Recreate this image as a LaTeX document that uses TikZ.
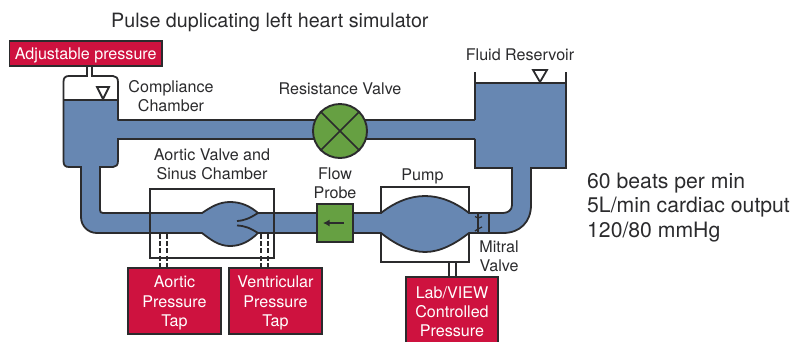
\documentclass[tikz,border=0pt]{standalone}
\usepackage{fontspec}
\setmainfont{TeX Gyre Heros}
\usetikzlibrary{arrows.meta}
\definecolor{fluid}{HTML}{6787B2}
\definecolor{redbox}{HTML}{CE123F}
\definecolor{greenb}{HTML}{66A042}
\definecolor{ink}{HTML}{2B2B2D}
\newcommand\toprl{\rule{0pt}{15.5pt}}
\tikzset{
 x=1pt,y=-1pt,
 lw/.style={line width=1.7pt,draw=ink},
 edge/.style={line width=1.8pt,draw=ink},
 redb/.style={fill=redbox,draw=ink,line width=1.8pt,text=white,align=center,font=\fontsize{16.1}{19.3}\selectfont,inner sep=0pt},
 lab/.style={text=ink,align=center,font=\fontsize{16.1}{18.8}\selectfont,inner sep=0pt},
 big/.style={text=ink,font=\fontsize{19.7}{24.5}\selectfont,inner sep=0pt},
 stat/.style={text=ink,font=\fontsize{21.2}{24.5}\selectfont,inner sep=0pt},
}
\begin{document}
\begin{tikzpicture}
\useasboundingbox (0,0) rectangle (793,341);
% fluid
\fill[fluid] (63.5,100) -- (118,100) -- (118,120) -- (475,120) -- (475,83) -- (566,83) -- (566,168) -- (531,168) -- (531,205) .. controls (531,222) and (520,233) .. (503,233) -- (469,233) .. controls (455,244) and (440,252) .. (425,252) .. controls (410,252) and (395,244) .. (381,233) -- (258,233) .. controls (250,241) and (241,246) .. (230,246) .. controls (219,246) and (211,240) .. (202,233) -- (97,233) .. controls (88,233) and (81,226) .. (81,217) -- (81,167) -- (69,167) .. controls (65,167) and (63.5,165) .. (63.5,161) -- cycle;
\fill[white] (100,167) -- (113,167) .. controls (116,167) and (118,165) .. (118,161) -- (118,139) -- (475,139) -- (475,168) -- (512,168) -- (512,205) .. controls (512,210) and (508,213) .. (503,213) -- (469,213) .. controls (455,202) and (440,196) .. (425,196) .. controls (410,196) and (395,202) .. (381,213) -- (258,213) .. controls (250,206) and (241,202) .. (230,202) .. controls (219,202) and (211,207) .. (202,213) -- (103,213) .. controls (101,213) and (100,212) .. (100,210) -- cycle;
% fluid outline
\draw[edge,line join=round] (118,100) -- (118,120) -- (475,120);
\draw[edge] (475,72) -- (475,120);
\draw[edge] (566,72) -- (566,168) -- (530,168);
\draw[edge] (475,139) -- (475,168) -- (512,168) -- (512,205) .. controls (512,210) and (508,213) .. (503,213) -- (469,213) .. controls (455,202) and (440,196) .. (425,196) .. controls (410,196) and (395,202) .. (381,213) -- (258,213) .. controls (250,206) and (241,202) .. (230,202) .. controls (219,202) and (211,207) .. (202,213) -- (103,213) .. controls (101,213) and (100,212) .. (100,210) -- (100,167) -- (113,167) .. controls (116,167) and (118,165) .. (118,161) -- (118,139) -- (475,139);
\draw[edge] (530,168) -- (531,168) -- (531,205) .. controls (531,222) and (520,233) .. (503,233) -- (469,233) .. controls (455,244) and (440,252) .. (425,252) .. controls (410,252) and (395,244) .. (381,233) -- (258,233) .. controls (250,241) and (241,246) .. (230,246) .. controls (219,246) and (211,240) .. (202,233) -- (97,233) .. controls (88,233) and (81,226) .. (81,217) -- (81,167) -- (69,167) .. controls (65,167) and (63.5,165) .. (63.5,161) -- (63.5,82) .. controls (63.5,78) and (65,76) .. (69,76) -- (87,76) -- (87,66);
\draw[edge] (92,66) -- (92,76) -- (113,76) .. controls (116,76) and (118,78) .. (118,82) -- (118,100);
\draw[line width=2.2pt,draw=ink] (63.5,100) -- (118,100);
\draw[line width=2.2pt,draw=ink] (475,83) -- (566,83);
% valve leaflets
\draw[edge] (258,213) .. controls (250,218) and (245,220.5) .. (237,221);
\draw[edge] (258,233) .. controls (250,228) and (245,225.8) .. (237,225.5);
% triangles
\draw[edge,fill=white] (97,87) -- (109,87) -- (103,99) -- cycle;
\draw[edge,fill=white] (533,70) -- (547,70) -- (540,82) -- cycle;
% chambers
\draw[lw] (150,189) rectangle (274,258);
\draw[lw] (381,213) -- (381,187) -- (469,187) -- (469,213);
\draw[lw] (381,233) -- (381,262) -- (469,262) -- (469,233);
% taps
\draw[lw,dash pattern=on 5pt off 2.2pt] (160,234) -- (160,268);
\draw[lw,dash pattern=on 5pt off 2.2pt] (167,234) -- (167,268);
\draw[lw,dash pattern=on 5pt off 2.2pt] (261,234) -- (261,268);
\draw[lw,dash pattern=on 5pt off 2.2pt] (268,234) -- (268,268);
% stem
\draw[edge] (449,262) -- (449,277);
\draw[edge] (456,262) -- (456,277);
% mitral
\draw[line width=2pt,draw=ink] (489,213) -- (489,233);
\draw[line width=2pt,draw=ink] (478,213) -- (478,233);
\draw[line width=1.3pt,draw=ink] (478,218) -- (475,216.5);
\draw[line width=1.3pt,draw=ink] (478,218) -- (482,216.5);
\draw[line width=1.3pt,draw=ink] (478,229) -- (475,231);
\draw[line width=1.3pt,draw=ink] (478,229) -- (482,227);
% resistance valve
\node[circle,minimum size=54pt,fill=greenb,draw=ink,line width=1.9pt,inner sep=0pt] (rv) at (340,131) {};
\draw[line width=1.7pt,draw=ink] (rv.45) -- (rv.225);
\draw[line width=1.7pt,draw=ink] (rv.135) -- (rv.315);
% flow probe
\node[rectangle,minimum width=36pt,minimum height=38pt,fill=greenb,draw=ink,line width=1.9pt,inner sep=0pt] (fp) at (335,223) {};
\coordinate (fa) at (344,223);
\coordinate (fb) at (323,223);
\draw[line width=1.7pt,draw=ink,-{Latex[length=6.5pt,width=7pt]}] (fa) -- (fb);
% red boxes
\node[redb,minimum width=152.5pt,minimum height=25pt] (adj) at (85.75,53.5) {\toprl Adjustable pressure};
\node[redb,minimum width=93pt,minimum height=66pt] (ao) at (174.5,301) {\toprl Aortic\\Pressure\\Tap};
\node[redb,minimum width=93pt,minimum height=66pt] (ve) at (275.5,301) {\toprl Ventricular\\Pressure\\Tap};
\node[redb,minimum width=92pt,minimum height=66pt] (lv) at (452,310) {\toprl Lab/VIEW\\Controlled\\Pressure};
% labels
\node[big,anchor=west] (ttl) at (111,22.5) {Pulse duplicating left heart simulator};
\node[lab] (cc) at (171,96) {Compliance\\Chamber};
\node[lab] (rl) at (340,88.5) {Resistance Valve};
\node[lab] (fr) at (520,55) {Fluid Reservoir};
\node[lab] (av) at (212,164) {Aortic Valve and\\Sinus Chamber};
\node[lab] (fl) at (335,183) {Flow\\Probe};
\node[lab] (pu) at (422.5,176) {Pump};
\node[lab] (mv) at (499,256.5) {Mitral\\Valve};
\node[stat,anchor=west,align=left] (st) at (587,207.5) {60 beats per min\\5L/min cardiac output\\120/80 mmHg};
\end{tikzpicture}
\end{document}
